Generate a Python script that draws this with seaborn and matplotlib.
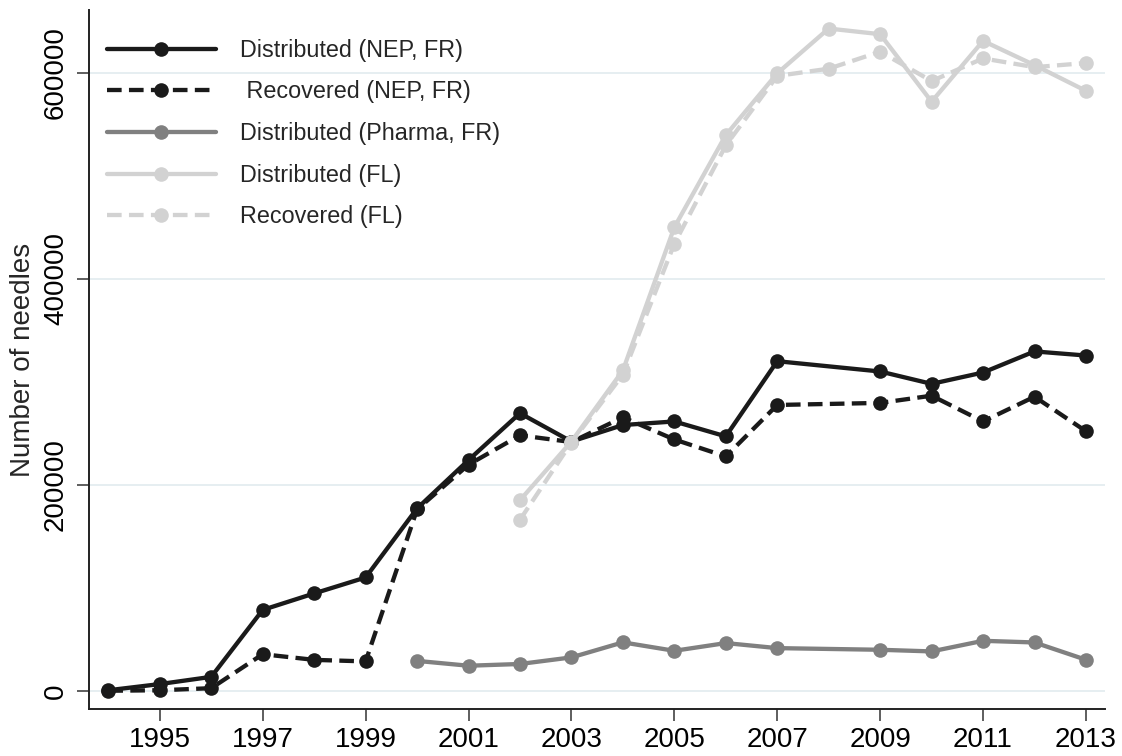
import numpy as np
import pandas as pd
import matplotlib
matplotlib.use("Agg")
import matplotlib.pyplot as plt
import seaborn as sns

nan = np.nan
years = list(range(1994, 2014))
dist_nep = [500, 6500, 13500, 78500, 94500, 110000, 177000, 224000, 269500, 242000,
            258000, 261500, 247000, 320000, nan, 310000, 298000, 309000, 329500, 325500]
rec_nep = [0, 500, 2500, 35500, 30000, 28500, 176000, 219500, 248000, 241500,
           265500, 244000, 227500, 277500, nan, 279500, 286500, 261500, 285500, 252000]
dist_pharma = [nan, nan, nan, nan, nan, nan, 29000, 24300, 26000, 32400,
               47000, 38800, 46300, 41400, nan, 39800, 38200, 48500, 46900, 30100]
dist_fl = [nan, nan, nan, nan, nan, nan, nan, nan, 185000, 242000,
           311000, 450000, 539500, 599500, 643000, 637500, 572000, 631000, 607500, 582500]
rec_fl = [nan, nan, nan, nan, nan, nan, nan, nan, 166000, 241000,
          307000, 434000, 529500, 597000, 604000, 620500, 592000, 614000, 605500, 609500]

labels = ["Distributed (NEP, FR)", " Recovered (NEP, FR)", "Distributed (Pharma, FR)",
          "Distributed (FL)", "Recovered (FL)"]
series = [dist_nep, rec_nep, dist_pharma, dist_fl, rec_fl]
colors = ["#1a1a1a", "#1a1a1a", "#808080", "#d2d2d2", "#d2d2d2"]
dashed = [False, True, False, False, True]

xticks = list(range(1995, 2014, 2))
yticks = [0, 200000, 400000, 600000]

sns.set_style("white")
plt.rcParams["font.family"] = ["Liberation Sans", "DejaVu Sans"]

fig = plt.figure(figsize=(11.22, 7.56), dpi=100)
ax = fig.add_axes([89.3 / 1122, 46.7 / 756, (1105 - 89.3) / 1122, (746 - 46.7) / 756])

for lab, vals, col, dsh in zip(labels, series, colors, dashed):
    df = pd.DataFrame({"year": years, "value": vals}).dropna()
    ls = (0, (3.4, 1.7)) if dsh else "-"
    sns.lineplot(data=df, x="year", y="value", ax=ax, color=col, linewidth=3.1,
                 linestyle=ls, marker="o", markersize=10.5, markeredgewidth=0,
                 markeredgecolor=col, markerfacecolor=col, errorbar=None,
                 label=lab)

ax.set_xlim(1993.63, 2013.37)
ax.set_ylim(-18000, 661000)

for yv in yticks:
    ax.axhline(yv, color="#e6eef1", linewidth=1.4, zorder=0)

ax.set_xticks(xticks)
ax.set_xticklabels([str(x) for x in xticks], fontsize=20)
ax.set_yticks(yticks)
ax.set_yticklabels([str(y) for y in yticks], fontsize=20, rotation=90, va="center")
ax.tick_params(axis="both", direction="out", length=8.6, width=1.1, color="#333333",
               labelcolor="black", left=True, bottom=True)
ax.tick_params(axis="x", pad=4)
ax.tick_params(axis="y", pad=6)

for s in ["top", "right"]:
    ax.spines[s].set_visible(False)
for s in ["left", "bottom"]:
    ax.spines[s].set_color("#222222")
    ax.spines[s].set_linewidth(1.4)

ax.set_xlabel("")
ax.set_ylabel("Number of needles", fontsize=20)
ax.yaxis.set_label_coords(-0.052, 0.5)

leg = ax.legend(loc="upper left", bbox_to_anchor=(0.017, 0.959), frameon=False,
                fontsize=16.8, handlelength=4.7, handletextpad=1.0, labelspacing=0.8,
                borderpad=0, borderaxespad=0)

fig.savefig("out.png", dpi=100, facecolor="white")
